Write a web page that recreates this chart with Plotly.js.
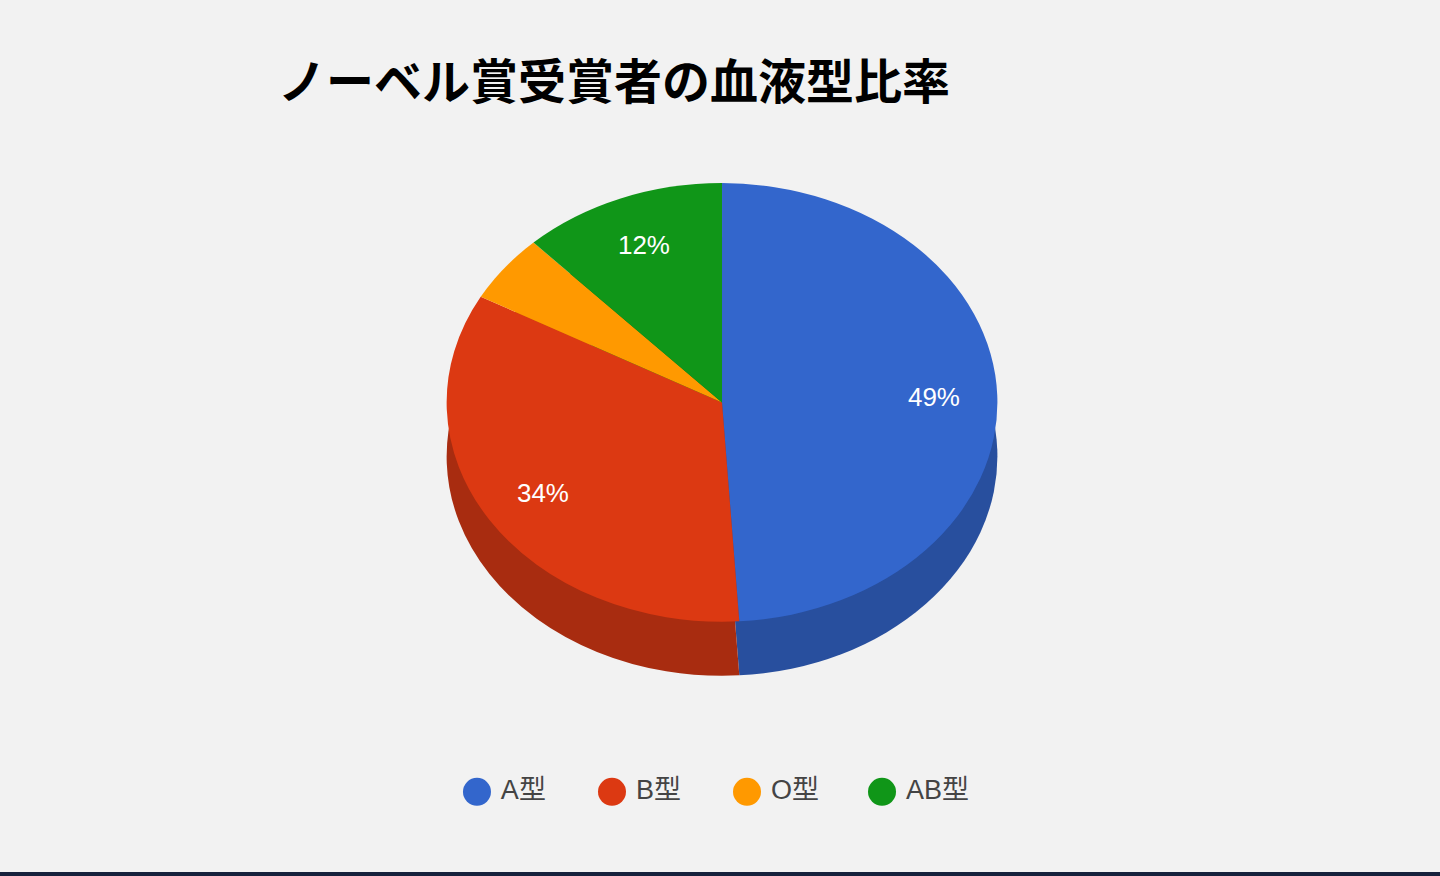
<!DOCTYPE html>
<html>
<head>
<meta charset="utf-8">
<script src="https://cdn.plot.ly/plotly-3.0.1.min.js"></script>
<style>
  html, body { margin: 0; padding: 0; background: #f2f2f2; }
  #chart { width: 1440px; height: 872px; border-bottom: 4px solid #16213c; }
</style>
</head>
<body>
<div id="chart"></div>
<script>
// ノーベル賞受賞者の血液型比率
var bloodTypes = ['A型', 'B型', 'O型', 'AB型'];
var shares = [49, 34, 5, 12];
var colors = ['#3366cc', '#dc3912', '#ff9900', '#109618'];
var sideColors = ['#284f9e', '#a82c10', '#c27400', '#0c7112'];
var legendSlots = [0, 1, 2, 3];

var pieTop = {
    type: 'pie',
    labels: bloodTypes,
    values: shares,
    sort: false,
    direction: 'clockwise',
    rotation: 0,
    marker: { colors: colors, line: { width: 0 } },
    textposition: 'inside',
    insidetextorientation: 'horizontal',
    // the small O slice has no label
    texttemplate: ['%{value}%', '%{value}%', '', '%{value}%'],
    textfont: { family: 'Liberation Sans, Arial, sans-serif', size: 26, color: '#ffffff' },
    domain: { x: [0.3014, 0.7014], y: [0.287, 0.790] },
    showlegend: false,
    hoverinfo: 'skip'
};

// darker copy shifted down for the side of the "3D" pie
var pieSide = {
    type: 'pie',
    labels: bloodTypes,
    values: shares,
    sort: false,
    direction: 'clockwise',
    rotation: 0,
    marker: { colors: sideColors, line: { width: 0 } },
    textinfo: 'none',
    domain: { x: [0.3014, 0.7014], y: [0.225, 0.728] },
    showlegend: false,
    hoverinfo: 'skip'
};

// legend row: big round markers with the labels next to them
var legendRow = {
    type: 'scatter',
    mode: 'markers+text',
    x: legendSlots,
    y: [0, 0, 0, 0],
    text: bloodTypes,
    texttemplate: '\u2009%{text}',
    textposition: 'middle right',
    textfont: { family: 'Liberation Sans, Noto Sans CJK JP, sans-serif', size: 27, color: '#444444' },
    marker: { color: colors, size: 28, symbol: 'circle' },
    cliponaxis: false,
    showlegend: false,
    hoverinfo: 'skip'
};

var layout = {
    width: 1440,
    height: 872,
    plot_bgcolor: '#f2f2f2',
    paper_bgcolor: '#f2f2f2',
    margin: { l: 0, r: 0, t: 0, b: 0 },
    title: {
        text: '<b>ノーベル賞受賞者の血液型比率</b>',
        font: { family: 'Noto Sans CJK JP, sans-serif', size: 48, color: '#000000' },
        xref: 'paper',
        x: 0.193,
        xanchor: 'left',
        yref: 'container',
        y: 0.906,
        yanchor: 'middle'
    },
    xaxis: { visible: false, domain: [0, 1], range: [-3.533, 7.133], fixedrange: true },
    yaxis: { visible: false, domain: [0.072, 0.112], range: [-1, 1], fixedrange: true },
    showlegend: false
};

// ellipse stretch and label placement
var sx = 550 / 438;
var cx = 722;
var cy = 872 * (1 - (0.287 + 0.790) / 2);
var ry = 872 * (0.790 - 0.287) / 2;
var labelRadius = 0.77;

document.addEventListener('DOMContentLoaded', function() {
    var gd = document.getElementById('chart');
    Plotly.newPlot(gd, [pieSide, pieTop, legendRow], layout, { displayModeBar: false, staticPlot: true }).then(function() {
        var layer = gd.querySelector('.pielayer');
        var box = gd.querySelector('.main-svg').getBoundingClientRect();
        var traces = layer.querySelectorAll('g.trace');
        var slices = traces[traces.length - 1].querySelectorAll('g.slice');
        var total = shares.reduce(function(a, b) { return a + b; }, 0);
        var moves = [];
        var cum = 0;
        Array.prototype.forEach.call(slices, function(s, i) {
            var mid = (cum + shares[i] / 2) / total * 2 * Math.PI;
            cum += shares[i];
            var t = s.querySelector('text');
            if (!t || !t.textContent) return;
            var r = t.getBoundingClientRect();
            moves.push({
                el: t,
                px: r.left + r.width / 2 - box.left,
                py: r.top + r.height / 2 - box.top,
                tx: cx + labelRadius * ry * sx * Math.sin(mid),
                ty: cy - labelRadius * ry * Math.cos(mid)
            });
        });
        // stretch the pie sideways into an ellipse, keep the labels unstretched
        layer.setAttribute('transform', 'translate(' + cx + ',0) scale(' + sx + ',1) translate(' + (-cx) + ',0)');
        moves.forEach(function(m) {
            var gx = cx + (m.tx - cx) / sx;
            m.el.setAttribute('transform',
                'translate(' + gx + ',' + (m.ty - m.py) + ') scale(' + (1 / sx) + ',1) translate(' + (-m.px) + ',0) ' +
                (m.el.getAttribute('transform') || ''));
        });
    });
});
</script>
</body>
</html>
